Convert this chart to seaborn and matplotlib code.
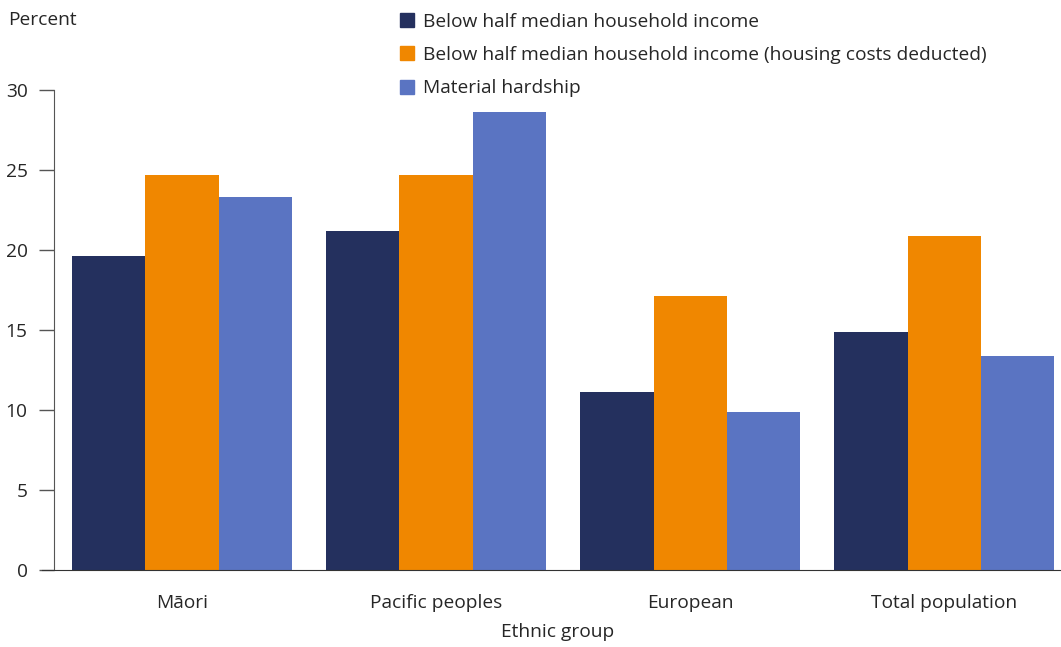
import numpy as np
import pandas as pd
import seaborn as sns
import matplotlib.pyplot as plt

# Datos
groups = ['Māori', 'Pacific peoples', 'European', 'Total population']
series = ['Below half median household income',
          'Below half median household income (housing costs deducted)',
          'Material hardship']
below_half = [19.6, 21.2, 11.1, 14.9]
below_half_hc = [24.7, 24.7, 17.1, 20.9]
hardship = [23.3, 28.6, 9.9, 13.4]
colors = ['#24305E', '#F08700', '#5A74C2']

df = pd.DataFrame({
    'Ethnic group': groups * 3,
    'serie': [series[0]] * 4 + [series[1]] * 4 + [series[2]] * 4,
    'Percent': below_half + below_half_hc + hardship,
})

sns.set_style('white')
plt.rcParams['font.family'] = ['Open Sans', 'DejaVu Sans']
fs = 13.8

fig = plt.figure(figsize=(10.61, 6.47), dpi=100)
ax = fig.add_axes([54 / 1061, 77 / 647, 1 - 54 / 1061, 480 / 647])

sns.barplot(data=df, x='Ethnic group', y='Percent', hue='serie',
            palette=colors, width=0.864, saturation=1, linewidth=0,
            ax=ax, legend=False)

ax.set_ylim(0, 30)
ax.set_xlim(-0.504, 3.46)
ax.set_yticks(range(0, 31, 5))
ax.tick_params(axis='y', left=True, direction='out', length=11, width=1,
               color='#555555', labelsize=fs, pad=8)
ax.tick_params(axis='x', bottom=False, length=0, labelsize=fs, pad=17)
for s in ['top', 'right']:
    ax.spines[s].set_visible(False)
ax.spines['left'].set_color('#555555')
ax.spines['bottom'].set_color('#333333')
ax.spines['bottom'].set_bounds(-0.55, 3.46)
ax.spines['bottom'].set_clip_on(False)
ax.set_ylabel('')
ax.set_xlabel('Ethnic group', fontsize=fs, labelpad=8)

fig.text(8 / 1061, 1 - 20 / 647, 'Percent', fontsize=fs, va='center', ha='left')

# Leyenda manual arriba
handles = [plt.Rectangle((0, 0), 1, 1, color=c) for c in colors]
fig.legend(handles, series, loc='upper left', bbox_to_anchor=(392 / 1061, 1 - 5 / 647),
           frameon=False, fontsize=fs, handlelength=0.75, handleheight=0.75,
           handletextpad=0.45, labelspacing=0.8, borderaxespad=0)

fig.savefig('out.png', dpi=100)
